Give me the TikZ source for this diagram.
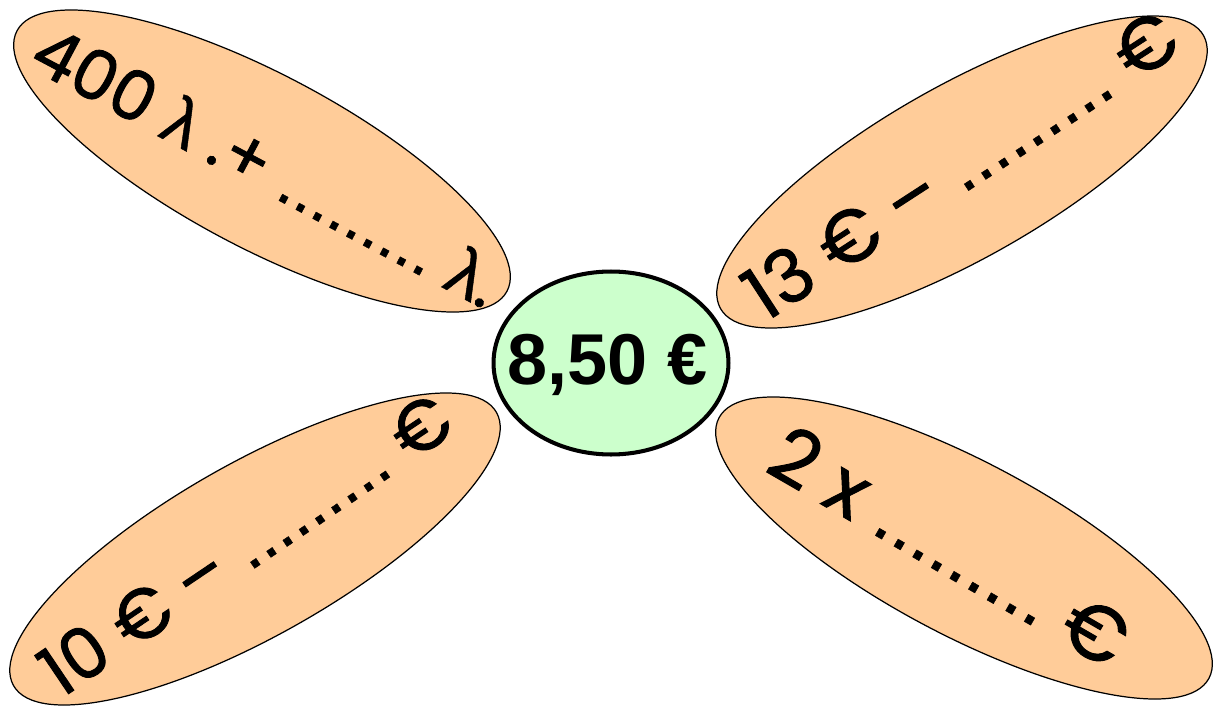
\documentclass[tikz,border=0pt]{standalone}
\usepackage{fontspec}
\setmainfont{Liberation Sans}
\newfontfamily\petalfont[FakeBold=1.2]{Poppins}
\newfontfamily\arialfont[FakeBold=0.6]{Liberation Sans}
\usepackage{xcolor}
\usepackage{tikz}
\usetikzlibrary{shapes.geometric}
\definecolor{petalfill}{HTML}{FFCC99}
\definecolor{pricefill}{HTML}{CCFFCC}
\newcommand{\lam}{{\arialfont λ}}
\newcommand{\blanks}{{\arialfont .........}}
\tikzstyle{petal}    =[draw, ellipse, fill=petalfill, line width=0.7pt, inner sep=0pt,
                       minimum width=11.1cm, minimum height=3.46cm]
\tikzstyle{petaltext}=[font=\petalfont\fontsize{42}{50}\selectfont, inner sep=0pt]

\begin{document}
\begin{tikzpicture}[x=0.02cm, y=-0.02cm]
  \useasboundingbox (0,0) rectangle (1215,710);

  % petals
  \node[petal, rotate=-28]   (litres) at (262,161) {};
  \node[petal, rotate=29.5]  (minus13) at (962,172) {};
  \node[petal, rotate=29.5]  (minus10) at (255,549) {};
  \node[petal, rotate=-28]   (twice) at (964,548) {};

  % petal texts
  \node[petaltext, rotate=-28, font=\petalfont\fontsize{39}{47}\selectfont]
       (litrestext) at (267,166) {400 \lam\ .+ \blanks\ \lam.};
  \node[petaltext, rotate=33]  (minus13text) at (960,164) {13 € – \blanks\ €};
  \node[petaltext, rotate=34, font=\petalfont\fontsize{40}{48}\selectfont]
       (minus10text) at (245,544) {10 € – \blanks\ €};
  \node[petaltext, rotate=-30, font=\petalfont\fontsize{44}{52}\selectfont]
       (twicetext) at (950,546) {2 x \blanks\ €};

  % centre price
  \node[draw, ellipse, fill=pricefill, line width=2.3pt, minimum width=4.7cm,
        minimum height=3.66cm] (price) at (611,363) {};
  \node[font=\fontsize{41}{49}\selectfont\bfseries] (pricetext) at (608,365) {8,50 €};

\end{tikzpicture}
\end{document}
